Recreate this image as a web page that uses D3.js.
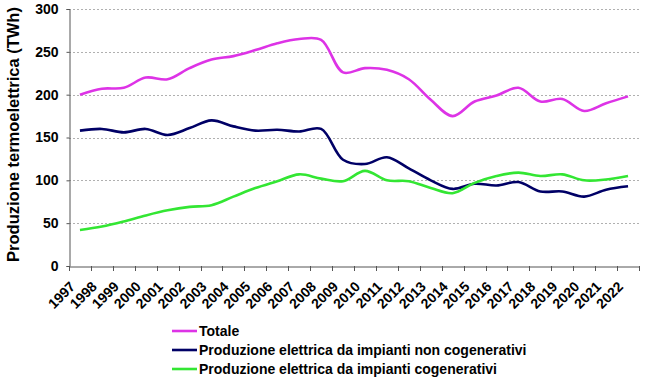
<!DOCTYPE html>
<html>
<head>
<meta charset="utf-8">
<title>Produzione termoelettrica</title>
<script src="https://d3js.org/d3.v7.min.js"></script>
<style>
  body { margin: 0; background: #fff; }
  text { font-family: "Liberation Sans", Arial, sans-serif; font-weight: bold; fill: #000; }
</style>
</head>
<body>
<svg width="650" height="386"></svg>
<script>
// anni
var years = ["1997","1998","1999","2000","2001","2002","2003","2004","2005","2006","2007","2008","2009",
             "2010","2011","2012","2013","2014","2015","2016","2017","2018","2019","2020","2021","2022"];

// TWh
var totale = [200, 207, 208, 220, 218, 231, 241, 245, 252, 260, 265, 264, 226,
              231, 229, 218, 194, 175, 192, 199, 208, 192, 195, 181, 190, 198];
var nonCogenerativi = [158, 160, 156, 160, 153, 161, 170, 163, 158, 159, 157, 160, 124,
                       119, 127, 114, 100, 90, 96, 94, 98, 87, 87, 81, 89, 93];
var cogenerativi = [42, 46, 52, 59, 65, 69, 71, 81, 91, 99, 107, 102, 99,
                    111, 100, 99, 91, 85, 97, 105, 109, 105, 107, 100, 101, 105];

var yTicks = [0, 50, 100, 150, 200, 250, 300];

var series = [
  { name: "Totale", values: totale, color: "#dd33e6" },
  { name: "Produzione elettrica da impianti non cogenerativi", values: nonCogenerativi, color: "#000066" },
  { name: "Produzione elettrica da impianti cogenerativi", values: cogenerativi, color: "#33e633" }
];

var svg = d3.select("svg");
var plotLeft = 69, plotRight = 639, plotTop = 9, plotBottom = 266;

var x = d3.scaleBand().domain(years).range([plotLeft, plotRight]);
var y = d3.scaleLinear().domain([0, 300]).range([plotBottom, plotTop]);

// griglia
svg.append("g")
  .selectAll("line")
  .data(yTicks.filter(function(d) { return d > 0; }))
  .enter().append("line")
    .attr("x1", plotLeft).attr("x2", plotRight)
    .attr("y1", function(d) { return Math.round(y(d)) + 0.5; })
    .attr("y2", function(d) { return Math.round(y(d)) + 0.5; })
    .attr("stroke", "#b0b0b0")
    .attr("stroke-dasharray", "2,2");

// asse y
var yAxis = svg.append("g")
    .attr("transform", "translate(" + (plotLeft + 0.5) + ",0)")
    .call(d3.axisLeft(y).tickValues(yTicks).tickSize(3).tickPadding(8));
yAxis.selectAll("text").style("font-size", "14px");
yAxis.select(".domain").attr("stroke", "#555");
yAxis.selectAll(".tick line").attr("stroke", "#555");

// asse x
var xAxis = svg.append("g")
    .attr("transform", "translate(0," + (plotBottom + 0.5) + ")")
    .call(d3.axisBottom(x).tickSize(0).tickSizeOuter(0));
xAxis.select(".domain").attr("stroke", "#555");
xAxis.selectAll(".tick line").remove();
xAxis.selectAll("text")
    .style("font-size", "14px")
    .attr("text-anchor", "end")
    .attr("y", 0)
    .attr("dx", 0)
    .attr("dy", 0)
    .attr("transform", "translate(-4,21) rotate(-45)");

// tacche tra le categorie
svg.append("g")
  .selectAll("line")
  .data(years.concat(["end"]))
  .enter().append("line")
    .attr("x1", function(d, i) { return Math.round(plotLeft + i * x.step()) + 0.5; })
    .attr("x2", function(d, i) { return Math.round(plotLeft + i * x.step()) + 0.5; })
    .attr("y1", plotBottom)
    .attr("y2", plotBottom + 5)
    .attr("stroke", "#555");

// titolo asse y
svg.append("text")
    .attr("transform", "translate(19,134.5) rotate(-90)")
    .attr("text-anchor", "middle")
    .style("font-size", "16.5px")
    .text("Produzione termoelettrica (TWh)");

// linee
var line = d3.line()
    .x(function(d, i) { return x(years[i]) + x.bandwidth() / 2; })
    .y(function(d) { return y(d); })
    .curve(d3.curveCatmullRom.alpha(0.5));

svg.append("g")
  .selectAll("path")
  .data(series)
  .enter().append("path")
    .attr("fill", "none")
    .attr("stroke", function(d) { return d.color; })
    .attr("stroke-width", 2.6)
    .attr("d", function(d) { return line(d.values); });

// legenda
var legend = svg.append("g")
  .selectAll("g")
  .data(series)
  .enter().append("g")
    .attr("transform", function(d, i) { return "translate(172," + (331 + i * 19) + ")"; });

legend.append("line")
    .attr("x1", 0).attr("x2", 25)
    .attr("stroke", function(d) { return d.color; })
    .attr("stroke-width", 2.6);

legend.append("text")
    .attr("x", 27)
    .attr("dy", "0.35em")
    .style("font-size", "14px")
    .text(function(d) { return d.name; });
</script>
</body>
</html>
